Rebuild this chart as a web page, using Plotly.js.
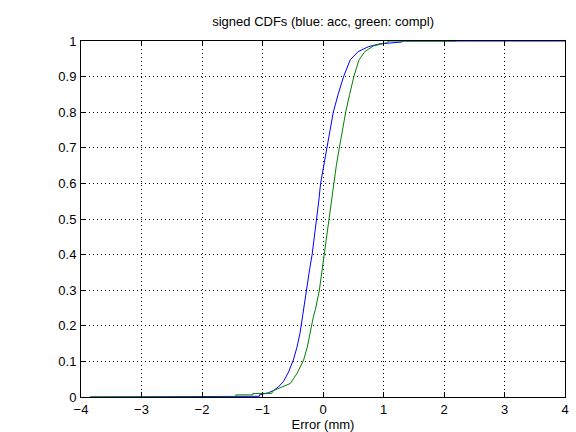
<!DOCTYPE html>
<html>
<head>
<meta charset="utf-8">
<script src="https://cdn.plot.ly/plotly-3.0.1.min.js"></script>
<style>html,body{margin:0;padding:0;background:#fff;}#chart{width:576px;height:432px;}</style>
</head>
<body>
<div id="chart"></div>
<script>
const accX = [-3.85, -1.44, -1.44, -1.05, -1.05, -0.9, -0.82, -0.74, -0.655, -0.57, -0.49, -0.43, -0.38, -0.33, -0.28, -0.22, -0.18, -0.14, -0.105, -0.07, -0.04, 0.01, 0.06, 0.11, 0.17, 0.25, 0.34, 0.45, 0.58, 0.75, 0.94, 1.3, 1.3, 4.2];
const accY = [0, 0, 0.002, 0.002, 0.006, 0.012, 0.018, 0.028, 0.043, 0.07, 0.104, 0.14, 0.179, 0.24, 0.3, 0.36, 0.4, 0.45, 0.5, 0.55, 0.6, 0.65, 0.7, 0.75, 0.8, 0.85, 0.9, 0.947, 0.97, 0.984, 0.992, 0.997, 1, 1];
const complX = [-3.85, -1.44, -1.44, -1.16, -1.16, -0.85, -0.82, -0.68, -0.54, -0.43, -0.32, -0.26, -0.215, -0.16, -0.125, -0.06, -0.02, 0.02, 0.06, 0.095, 0.13, 0.17, 0.22, 0.27, 0.32, 0.375, 0.44, 0.51, 0.595, 0.69, 0.83, 1.05, 1.1, 2.2];
const complY = [0, 0, 0.006, 0.006, 0.01, 0.01, 0.018, 0.027, 0.038, 0.066, 0.104, 0.14, 0.179, 0.225, 0.246, 0.3, 0.35, 0.4, 0.45, 0.5, 0.55, 0.6, 0.65, 0.7, 0.75, 0.8, 0.85, 0.9, 0.947, 0.97, 0.986, 0.995, 1, 1];
const xTicks = [-4, -3, -2, -1, 0, 1, 2, 3, 4];
const yTicks = [0, 0.1, 0.2, 0.3, 0.4, 0.5, 0.6, 0.7, 0.8, 0.9, 1];
const yTickText = ['0', '0.1', '0.2', '0.3', '0.4', '0.5', '0.6', '0.7', '0.8', '0.9', '1'];

const traces = [
  {x: accX, y: accY, type: 'scatter', mode: 'lines', line: {color: '#0000ff', width: 1, shape: 'linear'}, showlegend: false},
  {x: complX, y: complY, type: 'scatter', mode: 'lines', line: {color: '#008000', width: 1, shape: 'linear'}, showlegend: false}
];
const fontFam = 'Liberation Sans, Arial, sans-serif';
const axisCommon = {
  showline: true, linecolor: '#000', linewidth: 1, mirror: 'ticks',
  ticks: 'inside', ticklen: 5, tickcolor: '#000', tickwidth: 1,
  showgrid: true, gridcolor: '#000', gridwidth: 1, griddash: '1px,3px',
  zeroline: false, tickfont: {family: fontFam, size: 13, color: '#000'}
};
const layout = {
  width: 576, height: 432,
  margin: {l: 81, r: 11, t: 41, b: 35},
  paper_bgcolor: '#fff', plot_bgcolor: '#fff',
  title: {text: 'signed CDFs (blue: acc, green: compl)', x: 0.561, xanchor: 'center', y: 0.951, yanchor: 'middle',
          font: {family: fontFam, size: 13, color: '#000'}},
  xaxis: Object.assign({}, axisCommon, {range: [-4, 4], tickvals: xTicks, ticktext: xTicks.map(v => v < 0 ? '\u2212' + Math.abs(v) : String(v)),
          ticklabelstandoff: 0,
          title: {text: 'Error (mm)', standoff: 2, font: {family: fontFam, size: 13, color: '#000'}}}),
  yaxis: Object.assign({}, axisCommon, {range: [0, 1], tickvals: yTicks, ticktext: yTickText, ticklabelstandoff: 1})
};
Plotly.newPlot('chart', traces, layout, {staticPlot: true, displayModeBar: false});
</script>
</body>
</html>
